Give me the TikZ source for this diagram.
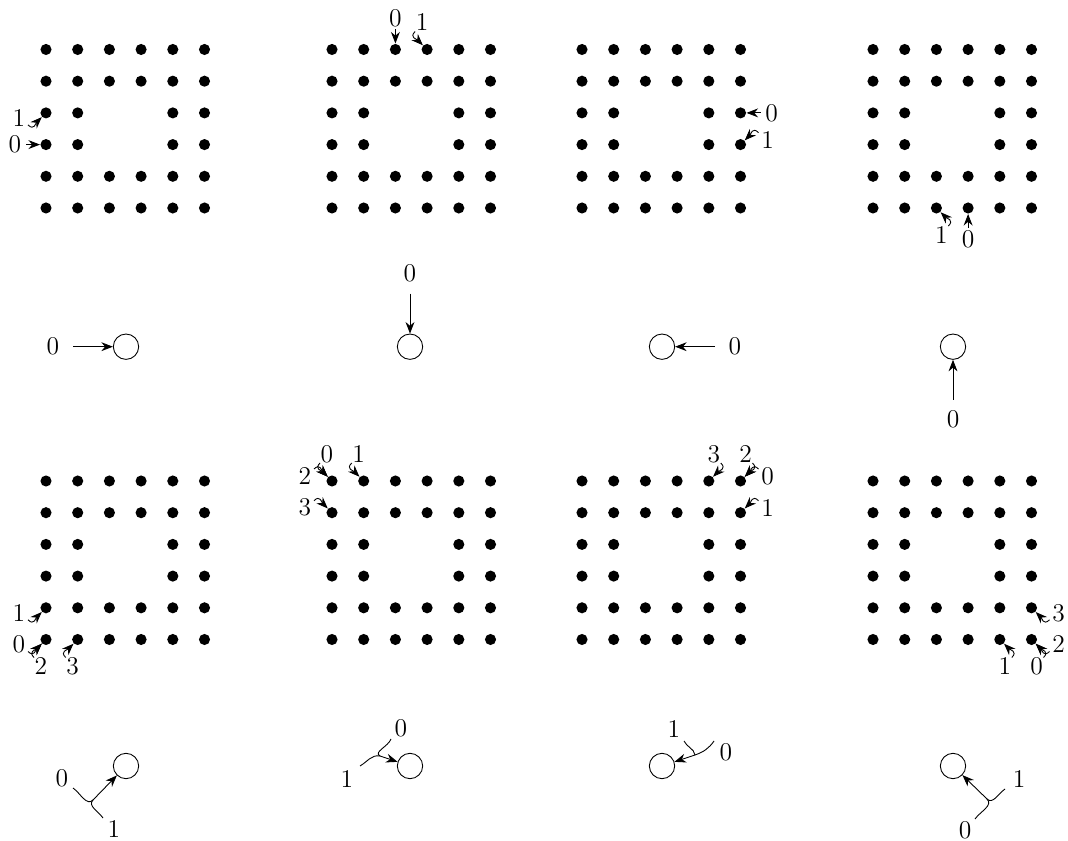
\documentclass[tikz,border=0pt]{standalone}
\usetikzlibrary{arrows.meta,calc}
\tikzset{
  dot/.style={circle,fill=black,inner sep=0pt,minimum size=5pt},
  ring/.style={circle,draw,inner sep=0pt,minimum size=11.4pt},
  lbl/.style={inner sep=0pt,font=\fontsize{11.5}{13}\selectfont},
  arr/.style={-{Stealth[length=5.2pt,width=4pt]}},
}
\newcommand\mkgrid[3]{%
  \foreach \c in {1,...,6}{\foreach \r in {1,...,6}{%
    \pgfmathtruncatemacro\hole{(\c>2)&&(\c<5)&&(\r>2)&&(\r<5)}%
    \ifnum\hole=0
      \node[dot] (#1-\c-\r) at ({#2+31.7*(\c-1)},{-(#3+31.7*(\r-1))}) {};
    \fi}}}
\newcommand\hk[7]{%
  \node[lbl] (#1) at ($(#2)+(#4)$) {#3};
  \coordinate (#1s) at ($(#2)+(#5)$);
  \draw[arr] (#1s) to[out=#6,in=#7,looseness=1.4] (#2);}
\newcommand\hW[3]{\hk{#1}{#2}{#3}{-27,-5}{-18,-12}{-45}{225}}
\newcommand\hWm[3]{\hk{#1}{#2}{#3}{-27,5}{-18,12}{45}{135}}
\newcommand\hN[3]{\hk{#1}{#2}{#3}{-5,27}{-12,18}{225}{135}}
\newcommand\hNm[3]{\hk{#1}{#2}{#3}{5,27}{12,18}{-45}{45}}
\newcommand\hE[3]{\hk{#1}{#2}{#3}{27,5}{18,12}{135}{45}}
\newcommand\hEm[3]{\hk{#1}{#2}{#3}{27,-5}{18,-12}{-135}{-45}}
\newcommand\hS[3]{\hk{#1}{#2}{#3}{5,-27}{12,-18}{45}{-45}}
\newcommand\hSm[3]{\hk{#1}{#2}{#3}{-5,-27}{-12,-18}{135}{225}}
\newcommand\st[5]{%
  \node[lbl] (#1) at ($(#2)+(#4)$) {#3};
  \coordinate (#1s) at ($(#2)+(#5)$);
  \draw[arr] (#1s) -- (#2);}
% #1 prefix, #2 ring, #3 J, #4 a-start, #5 b-start, #6 a-label, #7 b-label
\newcommand\ypts[7]{%
  \coordinate (#1j) at ($(#2)+(#3)$);
  \coordinate (#1a) at ($(#2)+(#4)$);
  \coordinate (#1b) at ($(#2)+(#5)$);
  \node[lbl] (#1la) at ($(#2)+(#6)$) {0};
  \node[lbl] (#1lb) at ($(#2)+(#7)$) {1};
  \draw[arr] (#1j) -- (#2);}
\begin{document}
\begin{tikzpicture}[x=0.45pt,y=0.45pt]
\useasboundingbox (0,0) rectangle (1068,-841);
\mkgrid{g1}{46}{49.5}
\mkgrid{g2}{332}{49.5}
\mkgrid{g3}{582}{49.5}
\mkgrid{g4}{873}{49.5}
\mkgrid{g5}{46}{481}
\mkgrid{g6}{332}{481}
\mkgrid{g7}{582}{481}
\mkgrid{g8}{873}{481}
\st{a1z}{g1-1-4}{0}{-31,0}{-20,0}
\hW{a1o}{g1-1-3}{1}
\st{a2z}{g2-3-1}{0}{0,31}{0,20}
\hN{a2o}{g2-4-1}{1}
\st{a3z}{g3-6-3}{0}{31,0}{20,0}
\hE{a3o}{g3-6-4}{1}
\st{a4z}{g4-4-6}{0}{0,-31}{0,-20}
\hS{a4o}{g4-3-6}{1}
\hW{b5o}{g5-1-5}{1}
\hW{b5z}{g5-1-6}{0}
\hSm{b5t}{g5-1-6}{2}
\hSm{b5h}{g5-2-6}{3}
\hN{b6z}{g6-1-1}{0}
\hN{b6o}{g6-2-1}{1}
\hWm{b6t}{g6-1-1}{2}
\hWm{b6h}{g6-1-2}{3}
\hE{b7z}{g7-6-1}{0}
\hE{b7o}{g7-6-2}{1}
\hNm{b7t}{g7-6-1}{2}
\hNm{b7h}{g7-5-1}{3}
\hS{b8z}{g8-6-6}{0}
\hS{b8o}{g8-5-6}{1}
\hEm{b8t}{g8-6-6}{2}
\hEm{b8h}{g8-6-5}{3}
\node[ring] (m1) at (126,-346.7) {};
\node[ring] (m2) at (410,-346.7) {};
\node[ring] (m3) at (662,-346.7) {};
\node[ring] (m4) at (953,-346.7) {};
\st{m1z}{m1}{0}{-73,0}{-53,0}
\st{m2z}{m2}{0}{0,73}{0,53}
\st{m3z}{m3}{0}{73,0}{53,0}
\st{m4z}{m4}{0}{0,-73}{0,-53}
\node[ring] (r5) at (126,-766) {};
\node[ring] (r6) at (410,-766) {};
\node[ring] (r7) at (662,-766) {};
\node[ring] (r8) at (953,-766) {};
% panel 5
\ypts{y5}{r5}{-33,-34}{-53,-22}{-23,-52}{-64,-12}{-12,-63}
\draw (y5a) to[out=-35,in=225] (y5j);
\draw (y5b) to[out=125,in=225] (y5j);
% panel 6
\ypts{y6}{r6}{-30,10}{-19,27}{-50,0}{-9,38}{-63,-13}
\draw (y6a) to[out=250,in=150] (y6j);
\draw (y6b) to[out=30,in=170] (y6j);
% panel 7
\ypts{y7}{r7}{33,11}{52,25}{22,25}{64,14}{12,37}
\draw (y7a) to[out=235,in=20] (y7j);
\draw (y7b) to[out=-65,in=100] (y7j);
% panel 8
\ypts{y8}{r8}{34,-33}{22,-53}{52,-23}{12,-64}{66,-13}
\draw (y8a) to[out=55,in=315] (y8j);
\draw (y8b) to[out=215,in=315] (y8j);
\end{tikzpicture}
\end{document}
